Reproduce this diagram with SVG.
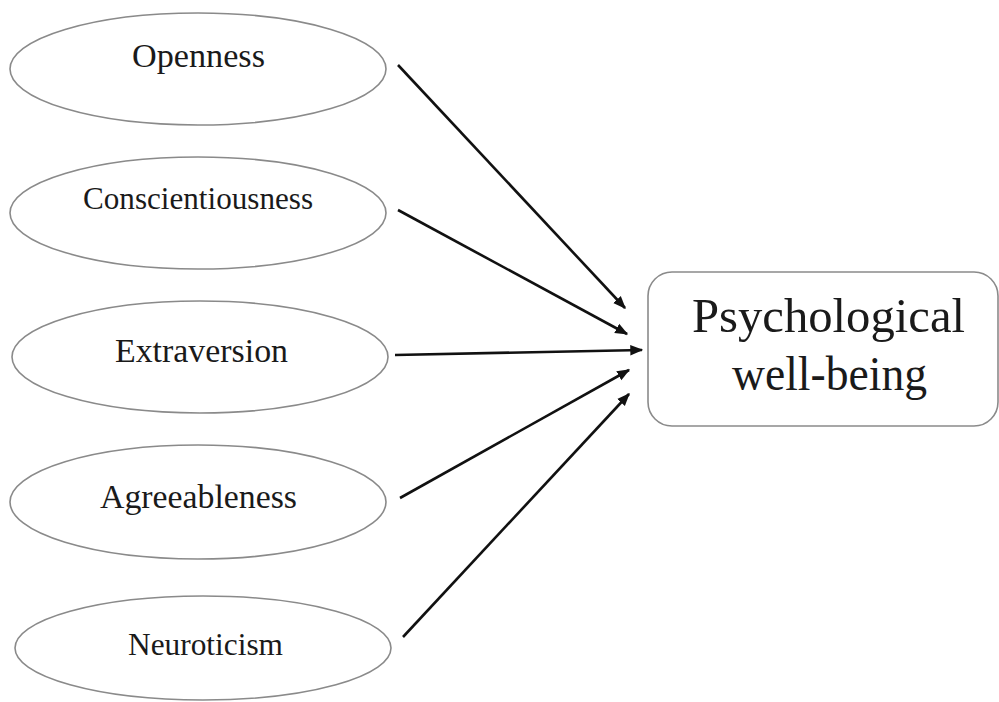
<svg xmlns="http://www.w3.org/2000/svg" width="999" height="702" viewBox="0 0 999 702">
<style>
.trait ellipse{fill:#fff;stroke:#8a8a8a;stroke-width:1.6}
.lbl{font-family:"Liberation Serif","Times New Roman",serif;fill:#1a1a1a;text-anchor:middle}
.t{font-size:34px}
.s{font-size:31.5px}
.big{font-size:48px}
.conn line{stroke:#111;stroke-width:2.6;marker-end:url(#ah)}
</style>
<defs>
<marker id="ah" viewBox="0 0 10 10" refX="9" refY="5" markerWidth="5" markerHeight="5" orient="auto" markerUnits="strokeWidth">
<path d="M0,1 L10,5 L0,9 Z" fill="#111"/>
</marker>
</defs>
<rect width="999" height="702" fill="#fff"/>
<g id="openness" class="trait"><ellipse cx="198" cy="69" rx="188" ry="56"/><text class="lbl t" x="198.5" y="67" textLength="133" lengthAdjust="spacingAndGlyphs">Openness</text></g>
<g id="conscientiousness" class="trait"><ellipse cx="198" cy="213" rx="188" ry="56"/><text class="lbl s" x="198" y="209" textLength="230" lengthAdjust="spacingAndGlyphs">Conscientiousness</text></g>
<g id="extraversion" class="trait"><ellipse cx="200" cy="357" rx="188" ry="56"/><text class="lbl t" x="201.5" y="362" textLength="173" lengthAdjust="spacingAndGlyphs">Extraversion</text></g>
<g id="agreeableness" class="trait"><ellipse cx="198" cy="502" rx="188" ry="57"/><text class="lbl t" x="198.5" y="508" textLength="197" lengthAdjust="spacingAndGlyphs">Agreeableness</text></g>
<g id="neuroticism" class="trait"><ellipse cx="203" cy="648" rx="188" ry="52"/><text class="lbl s" x="205.5" y="655" textLength="155" lengthAdjust="spacingAndGlyphs">Neuroticism</text></g>
<g id="wellbeing"><rect x="648" y="272" width="350" height="154" rx="24" fill="#fff" stroke="#8a8a8a" stroke-width="1.6"/><text class="lbl big" x="828.5" y="332" textLength="273" lengthAdjust="spacingAndGlyphs">Psychological</text><text class="lbl big" x="829.5" y="390" textLength="195" lengthAdjust="spacingAndGlyphs">well-being</text></g>
<g id="connectors" class="conn">
<line x1="398" y1="65" x2="625" y2="308"/>
<line x1="398" y1="210" x2="627" y2="334"/>
<line x1="395" y1="355" x2="642" y2="350"/>
<line x1="400" y1="498" x2="629" y2="370"/>
<line x1="403" y1="637" x2="629" y2="394"/>
</g>
</svg>
